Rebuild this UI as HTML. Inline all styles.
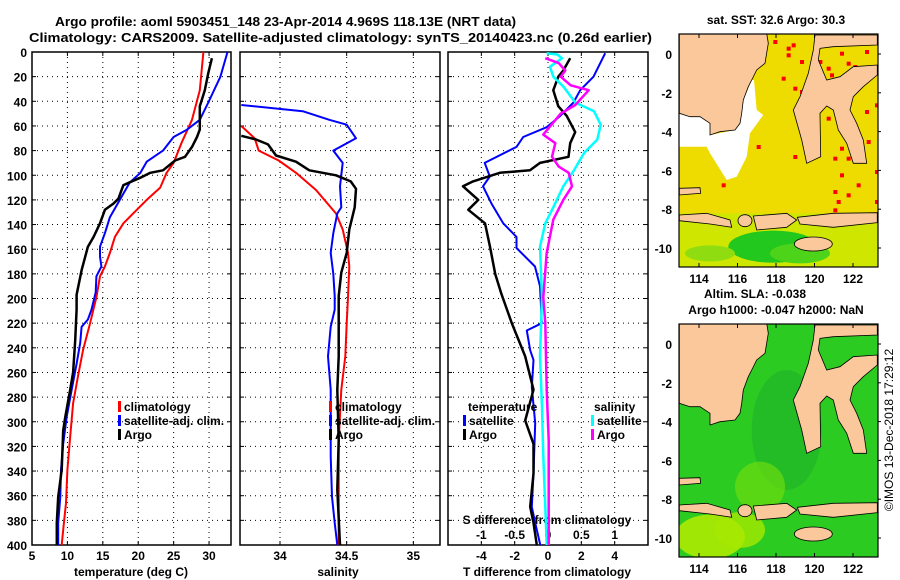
<!DOCTYPE html>
<html><head><meta charset="utf-8"><style>
html,body{margin:0;padding:0;background:#fff;}
svg{display:block;font-family:"Liberation Sans",Arial,sans-serif;font-weight:bold;}
</style></head><body>
<svg id="fig" width="900" height="580" viewBox="0 0 900 580" xmlns="http://www.w3.org/2000/svg">
<rect width="900" height="580" fill="#fff"/>
<text x="55" y="26" font-size="13" textLength="461" lengthAdjust="spacingAndGlyphs">Argo profile: aoml 5903451_148 23-Apr-2014 4.969S 118.13E (NRT data)</text>
<text x="29" y="42" font-size="13" textLength="623" lengthAdjust="spacingAndGlyphs">Climatology: CARS2009. Satellite-adjusted climatology: synTS_20140423.nc (0.26d earlier)</text>
<g id="p1"></g>
<g id="p2"></g>
<g id="p3"></g>
<g id="m1"></g>
<g id="m2"></g>
<text transform="translate(893,430) rotate(-90)" text-anchor="middle" font-size="12" font-weight="normal">©IMOS 13-Dec-2018 17:29:12</text>
</svg>
<script>
// ---------- data ----------
const depthTicks=[0,20,40,60,80,100,120,140,160,180,200,220,240,260,280,300,320,340,360,380,400];
const tempTicks=[5,10,15,20,25,30];
const salTicks=[34,34.5,35];
const salTickLabels=["34","34.5","35"];
const tdiffTicks=[-4,-2,0,2,4];
const sdiffTicks=[-1,-0.5,0,0.5,1];
const sdiffTickLabels=["-1","-0.5","0","0.5","1"];
// [depth, value]
const tempClim=[[0,29.2],[31,28.7],[55,27.6],[74,26.1],[90,25.0],[98,24.0],[110,23.1],[120,21.2],[128,19.8],[139,17.9],[150,16.7],[163,16.0],[174,15.3],[182,14.6],[199,14.1],[220,13.2],[242,12.2],[263,11.5],[285,10.8],[312,10.4],[339,10.0],[366,9.8],[382,9.5],[400,9.2]];
const tempSat=[[0,32.6],[20,31.6],[41,29.9],[55,28.7],[63,26.9],[69,25.0],[80,23.5],[89,21.2],[98,20.3],[106,18.8],[120,17.4],[134,16.0],[147,15.3],[158,14.6],[166,14.6],[174,14.8],[182,14.1],[195,14.0],[209,13.4],[217,12.9],[223,12.0],[236,11.8],[253,11.3],[274,10.6],[296,9.9],[318,9.4],[339,9.1],[361,9.0],[382,8.7],[400,8.7]];
const tempArgo=[[5,30.4],[17,29.9],[31,29.4],[44,28.7],[63,28.7],[69,28.3],[77,27.6],[85,26.6],[88,25.2],[96,23.5],[98,21.7],[102,20.3],[108,17.9],[119,17.2],[123,16.5],[128,15.3],[139,14.6],[150,13.7],[158,12.9],[177,12.0],[197,11.3],[209,11.3],[234,11.1],[260,10.8],[274,10.4],[296,9.7],[307,9.4],[339,9.2],[361,8.7],[382,8.5],[400,8.5]];
const salClim=[[60,33.71],[70,33.81],[80,33.84],[88,33.99],[98,34.12],[112,34.27],[131,34.42],[144,34.47],[163,34.51],[174,34.52],[199,34.51],[220,34.50],[247,34.49],[274,34.46],[315,34.44],[355,34.44],[400,34.44]];
const salSat=[[43,33.71],[48,34.17],[55,34.37],[59,34.50],[70,34.57],[80,34.40],[90,34.47],[109,34.45],[126,34.46],[131,34.43],[147,34.40],[163,34.38],[180,34.40],[198,34.41],[209,34.41],[223,34.38],[247,34.36],[274,34.38],[328,34.38],[361,34.39],[382,34.41],[400,34.43]];
const salArgo=[[68,33.71],[71,33.82],[75,33.91],[84,33.97],[89,34.12],[96,34.22],[100,34.42],[105,34.53],[111,34.57],[126,34.56],[144,34.52],[163,34.50],[179,34.46],[198,34.44],[247,34.44],[274,34.43],[315,34.44],[355,34.43],[400,34.45]];
const tdiffSat=[[1,3.43],[20,2.73],[31,1.93],[41,1.53],[52,0.72],[61,-0.08],[69,-1.49],[77,-1.89],[90,-3.80],[101,-3.49],[109,-3.90],[123,-3.39],[139,-2.69],[150,-1.89],[159,-1.89],[174,-0.78],[190,-0.48],[220,-0.37],[226,-1.27],[242,-1.07],[250,-0.87],[272,-0.97],[301,-0.77],[342,-0.87],[369,-0.97],[382,-0.77],[400,-0.46]];
const tdiffArgo=[[5,1.33],[15,0.92],[20,0.62],[31,0.32],[44,0.62],[52,1.13],[65,1.63],[74,1.33],[85,1.23],[90,-0.48],[96,-1.08],[98,-2.89],[105,-4.5],[109,-5.1],[120,-4.18],[128,-4.78],[139,-3.78],[158,-3.48],[180,-3.17],[196,-2.8],[220,-2.17],[247,-1.37],[274,-0.87],[299,-1.37],[318,-0.87],[342,-0.87],[369,-1.07],[382,-0.87],[400,-0.67]];
const sdiffSat=[[1,-0.02],[2,0.14],[5,0.21],[12,0.03],[20,0.08],[28,0.23],[41,0.41],[48,0.69],[59,0.79],[71,0.74],[82,0.54],[96,0.39],[109,0.23],[126,0.08],[139,-0.04],[158,-0.12],[199,-0.09],[247,-0.12],[288,-0.09],[328,-0.07],[369,-0.04],[400,-0.02]];
const sdiffArgo=[[5,-0.04],[9,0.16],[15,0.26],[20,0.19],[27,0.34],[31,0.61],[43,0.41],[50,0.19],[67,-0.07],[74,0.11],[85,0.06],[93,0.16],[98,0.31],[109,0.36],[120,0.23],[136,0.08],[163,-0.02],[199,-0.07],[220,-0.04],[274,-0.02],[315,0.01],[355,0.01],[400,0.01]];
const mapLonTicks=[114,116,118,120,122];
const mapLatTicks=[0,-2,-4,-6,-8,-10];

// ---------- helpers ----------
const NS="http://www.w3.org/2000/svg";
function mk(parent,tag,attrs,txt){const e=document.createElementNS(NS,tag);for(const k in attrs)e.setAttribute(k,attrs[k]);if(txt!==undefined)e.textContent=txt;parent.appendChild(e);return e;}
const TOP=52,BOT=545;
const yD=d=>TOP+(d/400)*(BOT-TOP);
function xs(x0,x1,v0,v1){return v=>x0+(v-v0)/(v1-v0)*(x1-x0);}

function panel(g,x0,x1,xScale,gridVals,name){
  const fr=mk(g,'rect',{x:x0,y:TOP,width:x1-x0,height:BOT-TOP,fill:'none',stroke:'#000','stroke-width':1.5});
  
  
  depthTicks.forEach(d=>{
    if(d>0&&d<400){const l=mk(g,'line',{x1:x0,x2:x1,y1:yD(d),y2:yD(d),stroke:'#000','stroke-width':1,'stroke-dasharray':'1,4'});
    
    }
    mk(g,'line',{x1:x0,x2:x0+4,y1:yD(d),y2:yD(d),stroke:'#000'});
    mk(g,'line',{x1:x1-4,x2:x1,y1:yD(d),y2:yD(d),stroke:'#000'});
  });
  gridVals.forEach(v=>{const x=xScale(v);if(x>x0+1&&x<x1-1){
    const l=mk(g,'line',{x1:x,x2:x,y1:TOP,y2:BOT,stroke:'#000','stroke-width':1,'stroke-dasharray':'1,4'});
    
    
    mk(g,'line',{x1:x,x2:x,y1:TOP,y2:TOP+4,stroke:'#000'});
    mk(g,'line',{x1:x,x2:x,y1:BOT-4,y2:BOT,stroke:'#000'});}});
}
function series(g,data,xScale,color,w,name){
  const pts=data.map(p=>xScale(p[1]).toFixed(1)+','+yD(p[0]).toFixed(1)).join(' ');
  const pl=mk(g,'polyline',{points:pts,fill:'none',stroke:color,'stroke-width':w,'stroke-linejoin':'round'});
  
  
}
function legend(g,x,y,color,label,name){
  const r=mk(g,'rect',{x:x,y:y-10,width:3,height:11,fill:color});
  
  
  const t=mk(g,'text',{x:x+6,y:y,'font-size':12},label);
  
  
}
function label(g,x,y,txt,anchor,size,name){
  const t=mk(g,'text',{x:x,y:y,'text-anchor':anchor,'font-size':size},txt);
  
  
  return t;
}

// ---------- panel 1 ----------
const p1=document.getElementById('p1');
const xT=xs(32,231,5,33.1);
panel(p1,32,231,xT,tempTicks,'temperature');
depthTicks.forEach(d=>label(p1,27,yD(d)+5,String(d),'end',12,'depth-tick-label'));
tempTicks.forEach(v=>label(p1,xT(v),560,String(v),'middle',12,'temperature-tick-label'));
label(p1,131,576,'temperature (deg C)','middle',12,'temperature-axis-title');
series(p1,tempClim,xT,'#f00',2,'temperature-climatology-line');
series(p1,tempSat,xT,'#00f',2,'temperature-satellite-line');
series(p1,tempArgo,xT,'#000',2.5,'temperature-argo-line');
legend(p1,118,411,'#f00','climatology','legend-climatology');
legend(p1,118,425,'#00f','satellite-adj. clim.','legend-satellite');
legend(p1,118,439,'#000','Argo','legend-argo');

// ---------- panel 2 ----------
const p2=document.getElementById('p2');
const xS=xs(240,440,33.7,35.2);
panel(p2,240,440,xS,salTicks,'salinity');
salTicks.forEach((v,i)=>label(p2,xS(v),560,salTickLabels[i],'middle',12,'salinity-tick-label'));
label(p2,338,576,'salinity','middle',12,'salinity-axis-title');
series(p2,salClim,xS,'#f00',2,'salinity-climatology-line');
series(p2,salSat,xS,'#00f',2,'salinity-satellite-line');
series(p2,salArgo,xS,'#000',2.5,'salinity-argo-line');
legend(p2,329,411,'#f00','climatology','legend-climatology');
legend(p2,329,425,'#00f','satellite-adj. clim.','legend-satellite');
legend(p2,329,439,'#000','Argo','legend-argo');

// ---------- panel 3 ----------
const p3=document.getElementById('p3');
const xTd=xs(448,648,-6,6);
const xSd=xs(448,648,-1.5,1.5);
panel(p3,448,648,xTd,tdiffTicks,'difference');
tdiffTicks.forEach(v=>label(p3,xTd(v),560,String(v),'middle',12,'tdiff-tick-label'));
label(p3,547,576,'T difference from climatology','middle',12,'tdiff-axis-title');
label(p3,547,524,'S difference from climatology','middle',12,'sdiff-axis-title');
sdiffTicks.forEach((v,i)=>label(p3,xSd(v),539,sdiffTickLabels[i],'middle',12,'sdiff-tick-label'));
series(p3,tdiffSat,xTd,'#00f',2,'tdiff-satellite-line');
series(p3,tdiffArgo,xTd,'#000',2.5,'tdiff-argo-line');
series(p3,sdiffSat,xSd,'#0ff',2.5,'sdiff-satellite-line');
series(p3,sdiffArgo,xSd,'#f0f',2.5,'sdiff-argo-line');
label(p3,468,411,'temperature','start',12,'legend-temperature-heading');
legend(p3,463,425,'#00f','satellite','legend-tdiff-satellite');
legend(p3,463,439,'#000','Argo','legend-tdiff-argo');
label(p3,594,411,'salinity','start',12,'legend-salinity-heading');
legend(p3,591,425,'#0ff','satellite','legend-sdiff-satellite');
legend(p3,591,439,'#f0f','Argo','legend-sdiff-argo');

// ---------- maps ----------
// shapes in zoom-crop coordinates (crop origin 600,0 scale 3) - geography decoration
const borneo=[[238,100],[500,100],[505,130],[495,190],[470,210],[455,240],[445,260],[430,300],[425,340],[420,370],[405,390],[360,395],[330,405],[330,370],[300,350],[270,350],[238,340]];
const sulawesi=[[645,105],[832,105],[832,135],[700,140],[660,145],[655,180],[680,240],[720,230],[760,200],[832,195],[832,225],[790,260],[760,290],[750,330],[770,370],[790,420],[800,490],[760,490],[740,430],[715,390],[700,330],[680,318],[660,340],[662,470],[620,490],[605,420],[580,330],[600,290],[625,220],[640,150]];
const java=[[238,645],[320,640],[390,660],[395,682],[330,672],[238,662]];
const sumbawa=[[460,648],[560,640],[590,660],[560,682],[470,690]];
const flores=[[592,652],[700,640],[832,638],[832,668],[700,682],[600,672]];
const islet=[[238,565],[300,563],[302,580],[238,585]];
const whiteZone=[[238,340],[300,350],[330,370],[330,405],[405,390],[420,370],[430,300],[455,240],[462,240],[470,330],[490,345],[450,400],[440,470],[410,530],[380,540],[330,460],[320,440],[238,440]];
const redCells=[[520,120],[560,140],[575,130],[600,180],[545,230],[580,260],[600,270],[470,435],[365,550],[560,160],[655,180],[680,200],[690,220],[720,155],[740,185],[760,195],[795,150],[680,350],[720,440],[700,470],[740,470],[760,460],[720,520],[770,550],[700,570],[710,600],[700,625],[795,330],[825,310],[825,510],[825,600],[740,580],[580,465],[800,420],[770,420]];
const MAPX0=679,MAPX1=878;
function cx(z){return 600+z/3;}
function drawMap(g,oy,kind){
  const cy=z=>oy+z/3;
  const clipId='clip'+kind;
  const defs=mk(g,'defs',{});
  const cp=mk(defs,'clipPath',{id:clipId});
  mk(cp,'rect',{x:MAPX0,y:oy+34,width:MAPX1-MAPX0,height:233});
  const grad=mk(defs,'linearGradient',{id:'g'+kind,x1:0,y1:0,x2:0,y2:1});
  const inner=mk(g,'g',{'clip-path':'url(#'+clipId+')'});
  const poly=(pts,fill,name,stroke)=>{const p=mk(inner,'polygon',{points:pts.map(q=>cx(q[0]).toFixed(1)+','+cy(q[1]).toFixed(1)).join(' '),fill:fill,stroke:stroke||'#000','stroke-width':stroke?1:0.8});};
  if(kind==='sst'){
    mk(inner,'rect',{x:MAPX0,y:oy+34,width:MAPX1-MAPX0,height:233,fill:'#eedc00'});
    mk(inner,'rect',{x:MAPX0,y:cy(640),width:MAPX1-MAPX0,height:60,fill:'#cfe600'});
    mk(inner,'ellipse',{cx:cx(520),cy:cy(740),rx:45,ry:16,fill:'#22c81e'});
    mk(inner,'ellipse',{cx:cx(600),cy:cy(760),rx:30,ry:10,fill:'#4dd41a'});
    mk(inner,'ellipse',{cx:cx(330),cy:cy(760),rx:25,ry:8,fill:'#8fdc10'});
    poly(whiteZone,'#fff','no-data-area','none');
    redCells.forEach(c=>{const r=mk(inner,'rect',{x:cx(c[0]),y:cy(c[1]),width:4,height:4,fill:'#f00'});
      
      });
  } else {
    mk(inner,'rect',{x:MAPX0,y:oy+34,width:MAPX1-MAPX0,height:233,fill:'#2ccb22'});
    mk(inner,'ellipse',{cx:cx(560),cy:cy(420),rx:35,ry:60,fill:'#1fb52a',opacity:0.7});
    mk(inner,'ellipse',{cx:cx(330),cy:cy(740),rx:35,ry:22,fill:'#bfee00',opacity:0.8});
    mk(inner,'ellipse',{cx:cx(420),cy:cy(720),rx:25,ry:18,fill:'#a6e800',opacity:0.8});
    mk(inner,'ellipse',{cx:cx(480),cy:cy(590),rx:25,ry:25,fill:'#6cdb10',opacity:0.7});
  }
  const land='#fac89b';
  poly(borneo,land,'borneo-land');
  poly(sulawesi,land,'sulawesi-land');
  poly(java,land,'java-land');
  poly(sumbawa,land,'sumbawa-land');
  poly(flores,land,'flores-land');
  poly(islet,land,'islet-land');
  const e1=mk(inner,'ellipse',{cx:cx(435),cy:cy(662),rx:7,ry:6,fill:land,stroke:'#000','stroke-width':0.8});
  
  
  const e2=mk(inner,'ellipse',{cx:cx(640),cy:cy(732),rx:19,ry:7,fill:land,stroke:'#000','stroke-width':0.8});
  
  
  const fr=mk(g,'rect',{x:MAPX0,y:oy+34,width:MAPX1-MAPX0,height:233,fill:'none',stroke:'#000','stroke-width':1.2});
  
  
  const lonX=l=>699+(l-114)*19.25;
  const latY=l=>oy+54-l*19.4;
  mapLonTicks.forEach(l=>{mk(g,'line',{x1:lonX(l),x2:lonX(l),y1:oy+34,y2:oy+38,stroke:'#000'});mk(g,'line',{x1:lonX(l),x2:lonX(l),y1:oy+263,y2:oy+267,stroke:'#000'});
    label(g,lonX(l),oy+283,String(l),'middle',12,'map-lon-tick-label');});
  mapLatTicks.forEach(l=>{mk(g,'line',{x1:MAPX1,x2:MAPX1+3,y1:latY(l),y2:latY(l),stroke:'#000'});
    label(g,672,latY(l)+5,String(l),'end',12,'map-lat-tick-label');});
}
const m1=document.getElementById('m1');
drawMap(m1,0,'sst');
label(m1,776,24,'sat. SST: 32.6 Argo: 30.3','middle',12,'sst-map-title');
const m2=document.getElementById('m2');
drawMap(m2,290,'sla');
label(m2,755,298,'Altim. SLA: -0.038','middle',12,'sla-map-title');
label(m2,776,314,'Argo h1000: -0.047 h2000: NaN','middle',12,'sla-map-subtitle');
</script>
</body></html>
